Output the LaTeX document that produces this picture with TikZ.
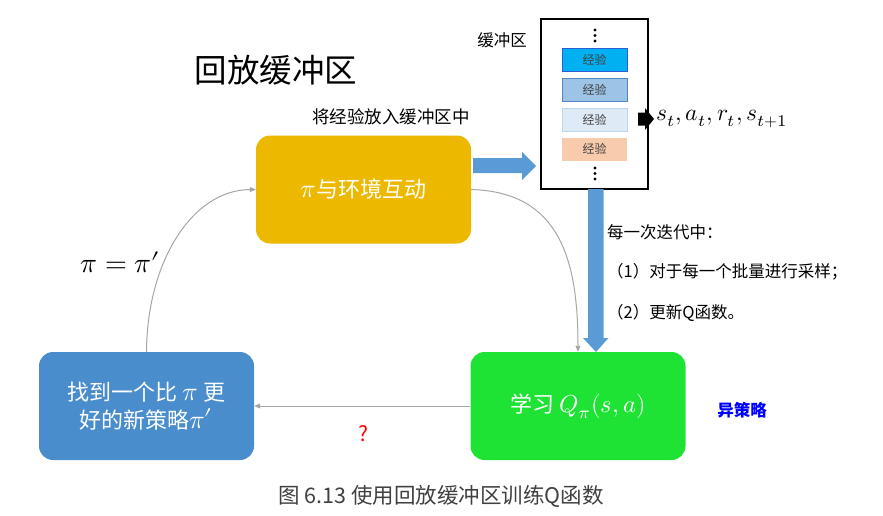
\documentclass[tikz,border=0pt]{standalone}
\usepackage{fontspec}
\usepackage{unicode-math}
\setmathfont{Latin Modern Math}
\usepackage{graphicx}
\newfontfamily\cjk{Noto Sans CJK SC}
\newcommand{\bigmath}[2][2.6]{\scalebox{#1}{\normalsize$#2$}}
\usetikzlibrary{arrows.meta}
\definecolor{cyell}{HTML}{EDB900}
\definecolor{cgreen}{HTML}{1EE335}
\definecolor{cblue}{HTML}{4A8DCD}
\definecolor{carrow}{HTML}{5B9BD5}
\definecolor{cgray}{HTML}{A6A6A6}
\definecolor{eonefill}{HTML}{00B0F0}
\definecolor{eonedraw}{HTML}{2E5BD6}
\definecolor{etwofill}{HTML}{9DC3E6}
\definecolor{etwodraw}{HTML}{4F87C6}
\definecolor{ethreefill}{HTML}{DEEBF7}
\definecolor{ethreedraw}{HTML}{BDD7EE}
\definecolor{efourfill}{HTML}{F8CBAD}
\definecolor{pureblue}{HTML}{0000FF}
\tikzset{
  mainbox/.style={rounded corners=14pt, minimum width=215pt, minimum height=108pt, text=white, font=\cjk\fontsize{22}{28}\selectfont, align=center, inner sep=0pt},
  expbox/.style={minimum width=65pt, minimum height=23pt, line width=1pt, font=\cjk\fontsize{12}{14}\selectfont, text=black!75, inner sep=0pt},
  link/.style={draw=cgray, line width=1pt, -{Triangle[length=6pt,width=5pt]}},
  blockarrow/.style={fill=carrow, draw=none},
  dot/.style={circle, fill=black, inner sep=0pt, minimum size=3.2pt},
  sidetext/.style={anchor=west, inner sep=0pt, font=\cjk\fontsize{16.5}{19}\selectfont},
}
\begin{document}
\begin{tikzpicture}[x=1pt,y=-1pt]
\useasboundingbox (0,0) rectangle (883,515);
% main boxes
\node[mainbox, fill=cyell] (act) at (363.5,189.5) {\bigmath{\pi}与环境互动};
\node[mainbox, fill=cgreen] (learn) at (578,406) {学习 \bigmath[2.45]{Q_\pi(s,a)}};
\node[mainbox, fill=cblue] (find) at (146.5,406) {找到一个比 \bigmath{\pi} 更\\好的新策略\bigmath{\pi'}};
% buffer
\node[draw=black, line width=2pt, minimum width=107pt, minimum height=170pt, inner sep=0pt] (buf) at (594.5,104) {};
\node[expbox, fill=eonefill, draw=eonedraw] (e1) at (594.5,59.5) {经验};
\node[expbox, fill=etwofill, draw=etwodraw] (e2) at (594.5,90) {经验};
\node[expbox, fill=ethreefill, draw=ethreedraw] (e3) at (594.5,119.5) {经验};
\node[expbox, fill=efourfill, draw=none] (e4) at (594.5,149) {经验};
\node[dot] (d1) at (595,30) {};
\node[dot] (d2) at (595,35.5) {};
\node[dot] (d3) at (595,41) {};
\node[dot] (d4) at (595,168) {};
\node[dot] (d5) at (595,173.5) {};
\node[dot] (d6) at (595,179) {};
% small black arrow out of buffer
\fill[black] (638,112.5) -- (645,112.5) -- (645,108) -- (654,119) -- (645,130) -- (645,125.5) -- (638,125.5) -- cycle;
\node[anchor=west, inner sep=0pt] (tuple) at (656,119) {\bigmath[2.35]{s_t,a_t,r_t,s_{t+1}}};
% block arrows
\fill[blockarrow] (473,158) -- (522,158) -- (522,152) -- (536,166) -- (522,180) -- (522,173) -- (473,173) -- cycle;
\fill[blockarrow] (588,189) -- (603.5,189) -- (603.5,338) -- (608.5,338) -- (596,352) -- (583,338) -- (588,338) -- cycle;
% gray connectors
\draw[link] (find.north) .. controls (147,262) and (192,190) .. (act.west);
\draw[link] (act.east) .. controls (560,192) and (578,260) .. (learn.north);
\draw[link] (learn.west) -- (find.east);
% texts
\node[font=\cjk\fontsize{32.5}{38}\selectfont] (title) at (276,70) {回放缓冲区};
\node[font=\cjk\fontsize{17.5}{20}\selectfont] (put) at (391,117) {将经验放入缓冲区中};
\node[font=\cjk\fontsize{16.5}{19}\selectfont] (buflabel) at (502,40) {缓冲区};
\node[sidetext] (it0) at (607,232) {每一次迭代中：};
\node[sidetext] (it1) at (607,272) {（1）对于每一个批量进行采样；};
\node[sidetext] (it2) at (607,313) {（2）更新Q函数。};
\node[font=\cjk\bfseries\fontsize{16.5}{19}\selectfont, text=pureblue] (offp) at (742,410) {异策略};
\node (eq) at (121,262) {\bigmath[2.8]{\pi=\pi'}};
\node[font=\cjk\fontsize{21}{24}\selectfont, text=red] (q) at (363,434) {?};
\node[font=\cjk\fontsize{21.5}{25}\selectfont, text=black!75] (cap) at (441,496) {图 6.13 使用回放缓冲区训练Q函数};
\end{tikzpicture}
\end{document}
